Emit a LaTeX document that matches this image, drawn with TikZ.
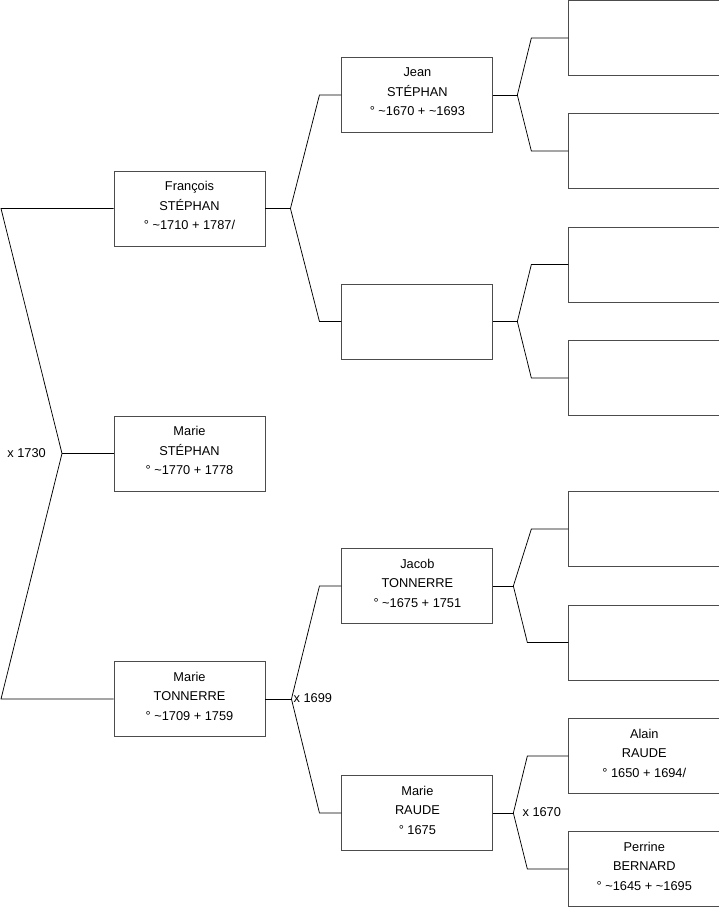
\documentclass[tikz,border=0pt]{standalone}
\usepackage{fontspec}
\setmainfont{Liberation Sans}
\usetikzlibrary{positioning}

\begin{document}
\begin{tikzpicture}[x=1pt, y=-1pt]
    % Styles:
    \tikzset{person/.style={draw=black!70, line width=0.9pt, minimum width=151pt, minimum height=75pt, inner sep=0pt, align=center, font=\fontsize{12.8}{19.5}\selectfont, execute at end node={\rule[-6pt]{0pt}{0pt}}}}
    \tikzset{link/.style={line width=0.75pt}}
    \tikzset{mariage/.style={inner sep=0pt, font=\fontsize{12.8}{14}\selectfont}}
    \useasboundingbox (0,0) rectangle (719,908);

    % First column:
    \node[person] (francois) at (189.5,208.5) {François\\STÉPHAN\\° \textasciitilde1710 + 1787/};
    \node[person] (mariest)  at (189.5,453.5) {Marie\\STÉPHAN\\° \textasciitilde1770 + 1778};
    \node[person] (marieto)  at (189.5,699)   {Marie\\TONNERRE\\° \textasciitilde1709 + 1759};

    % Second column:
    \node[person] (jean)    [right = 76pt of francois, yshift=113.5pt]  {Jean\\STÉPHAN\\° \textasciitilde1670 + \textasciitilde1693};
    \node[person] (inconnu) [right = 76pt of francois, yshift=-113pt]   {};
    \node[person] (jacob)   [right = 76pt of marieto, yshift=113pt]     {Jacob\\TONNERRE\\° \textasciitilde1675 + 1751};
    \node[person] (marierd) [right = 76pt of marieto, yshift=-114pt]    {Marie\\RAUDE\\° 1675};

    % Third column:
    \node[person] (jeanp)    [right = 75pt of jean, yshift=57pt]      {};
    \node[person] (jeanm)    [right = 75pt of jean, yshift=-56pt]     {};
    \node[person] (inconnup) [right = 75pt of inconnu, yshift=57pt]   {};
    \node[person] (inconnum) [right = 75pt of inconnu, yshift=-56.5pt] {};
    \node[person] (jacobp)   [right = 75pt of jacob, yshift=57pt]     {};
    \node[person] (jacobm)   [right = 75pt of jacob, yshift=-56.5pt]  {};
    \node[person] (alain)    [right = 75pt of marierd, yshift=57pt]   {Alain\\RAUDE\\° 1650 + 1694/};
    \node[person] (perrine)  [right = 75pt of marierd, yshift=-56pt]  {Perrine\\BERNARD\\° \textasciitilde1645 + \textasciitilde1695};

    % Junctions:
    \coordinate (j1730) at (62,453.5);
    \coordinate (fl)    at (1,208.5);
    \coordinate (ml)    at (1,699);

    % Connectors:
    \draw[link] (francois.west) -- (fl) -- (j1730) -- (ml) -- (marieto.west);
    \draw[link] (j1730) -- (mariest.west);

    \draw[link] (francois.east) -- ++(25,0) coordinate (jf);
    \draw[link] (jean.west) -- ++(-22,0) -- (jf) -- ([xshift=-22pt]inconnu.west) -- (inconnu.west);
    \draw[link] (marieto.east) -- ++(26,0) coordinate (j1699);
    \draw[link] (jacob.west) -- ++(-22,0) -- (j1699) -- ([xshift=-22pt]marierd.west) -- (marierd.west);

    \draw[link] (jean.east) -- ++(24,0) coordinate (jj);
    \draw[link] (jeanp.west) -- ++(-37,0) -- (jj) -- ([xshift=-37pt]jeanm.west) -- (jeanm.west);
    \draw[link] (inconnu.east) -- ++(24,0) coordinate (ji);
    \draw[link] (inconnup.west) -- ++(-37,0) -- (ji) -- ([xshift=-37pt]inconnum.west) -- (inconnum.west);
    \draw[link] (jacob.east) -- ++(20,0) coordinate (jb);
    \draw[link] (jacobp.west) -- ++(-37,0) -- (jb) -- ([xshift=-41pt]jacobm.west) -- (jacobm.west);
    \draw[link] (marierd.east) -- ++(20,0) coordinate (j1670);
    \draw[link] (alain.west) -- ++(-41,0) -- (j1670) -- ([xshift=-41pt]perrine.west) -- (perrine.west);

    % Marriages:
    \node[mariage] (m1730) [left = 16pt of j1730] {x 1730};
    \node[mariage] (m1699) [right = 2pt of j1699, yshift=1pt] {x 1699};
    \node[mariage] (m1670) [right = 9pt of j1670, yshift=1pt] {x 1670};
\end{tikzpicture}
\end{document}
